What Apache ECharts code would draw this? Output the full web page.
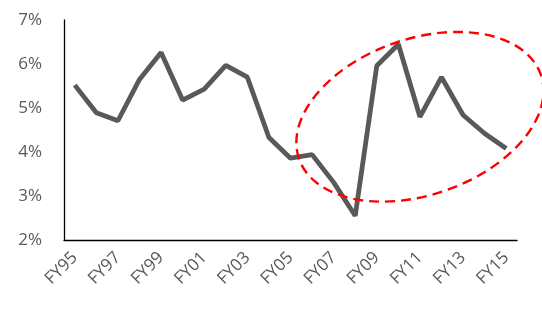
<!DOCTYPE html>
<html>
<head>
<meta charset="utf-8">
<script src="https://cdn.jsdelivr.net/npm/echarts@6/dist/echarts.min.js"></script>
<style>html,body{margin:0;padding:0;background:#fff}#c{width:542px;height:320px}</style>
</head>
<body>
<div id="c"></div>
<script>
const categories = ["FY95","FY96","FY97","FY98","FY99","FY00","FY01","FY02","FY03","FY04","FY05","FY06","FY07","FY08","FY09","FY10","FY11","FY12","FY13","FY14","FY15"];
const values = [5.52,4.89,4.71,5.65,6.26,5.18,5.43,5.97,5.70,4.33,3.86,3.94,3.31,2.55,5.96,6.45,4.80,5.70,4.84,4.42,4.08];
const yTicks = [2,3,4,5,6,7];
// annotation ellipse: centre in data units (category index, value)
const ellipseCentre = [15.87, 4.80];

const chart = echarts.init(document.getElementById('c'), null, {renderer:'canvas'});
const font = "'Open Sans', 'DejaVu Sans', sans-serif";
chart.setOption({
  animation:false,
  backgroundColor:'#fff',
  grid:{left:64,right:25,top:20,bottom:80},
  xAxis:{
    type:'category',data:categories,boundaryGap:true,
    axisLine:{lineStyle:{color:'#000',width:1.3}},
    axisTick:{show:false},
    axisLabel:{interval:1,rotate:45,margin:15,color:'#595959',fontSize:17,fontFamily:font}
  },
  yAxis:{
    type:'value',min:yTicks[0],max:yTicks[yTicks.length-1],interval:1,
    axisLine:{show:true,lineStyle:{color:'#000',width:1.3}},
    axisTick:{show:false},
    splitLine:{show:false},
    axisLabel:{margin:22,color:'#595959',fontSize:17,fontFamily:font,formatter:'{value}%'}
  },
  series:[{
    type:'line',data:values,symbol:'none',
    lineStyle:{color:'#595959',width:4.8}
  }]
});
const c = chart.convertToPixel({xAxisIndex:0,yAxisIndex:0}, ellipseCentre);
chart.setOption({
  graphic:[{
    type:'ellipse',x:c[0],y:c[1],rotation:19.2*Math.PI/180,
    shape:{cx:0,cy:0,rx:128,ry:78},
    style:{fill:null,stroke:'#ff0000',lineWidth:2.4,lineDash:[10,6]},
    silent:true,z:10
  }]
});
</script>
</body>
</html>
